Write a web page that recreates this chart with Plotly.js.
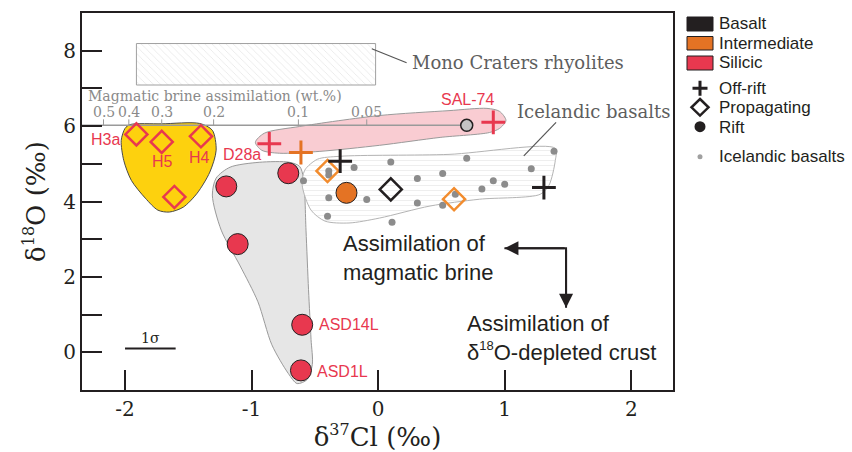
<!DOCTYPE html>
<html>
<head>
<meta charset="utf-8">
<script src="https://cdn.plot.ly/plotly-3.0.1.min.js"></script>
<style>
  html, body { margin: 0; padding: 0; background: #ffffff; }
  #chart { width: 852px; height: 452px; }
</style>
</head>
<body>
<div id="chart"></div>
<script>
// ---- Sample data: δ37Cl (‰) vs δ18O (‰) ----
const basaltOffRiftX = [-0.30, 1.31];
const basaltOffRiftY = [5.07, 4.37];
const basaltPropX = [0.10];
const basaltPropY = [4.32];

const interOffRiftX = [-0.61];
const interOffRiftY = [5.30];
const interPropX = [-0.40, 0.60];
const interPropY = [4.81, 4.06];
const interRiftX = [-0.25];
const interRiftY = [4.23];

const silicicOffRiftX = [-0.86, 0.91];
const silicicOffRiftY = [5.53, 6.10];
const silicicPropX = [-1.91, -1.71, -1.40, -1.61];
const silicicPropY = [5.78, 5.58, 5.73, 4.12];
const silicicRiftX = [-1.20, -0.71, -1.11, -0.60, -0.61];
const silicicRiftY = [4.40, 4.75, 2.87, 0.73, -0.48];

// Icelandic basalt compilation
const icelandX = [-0.39, -0.39, -0.19, 0.10, 0.70, 1.39, 1.21, -0.59, 0.51, 0.31,
                  0.91, 1.00, 0.82, 0.61, 0.51, 0.31, -0.09, -0.39, -0.40, 0.11];
const icelandY = [4.81, 4.70, 4.90, 5.05, 5.15, 5.33, 4.87, 4.55, 4.74, 4.61,
                  4.55, 4.46, 4.33, 4.19, 3.90, 3.96, 4.05, 4.10, 3.61, 3.45];

// Uncontaminated end-member and magmatic brine mixing scale
const endMemberX = [0.70];
const endMemberY = [6.02];
const brineLineX = [-2.34, 0.70];
const brineLineY = [6.02, 6.02];
const brineTickX = [-2.17, -1.97, -1.71, -1.30, -0.63, -0.09];
const brineTickLabels = ['0.5', '0.4', '0.3', '0.2', '0.1', '0.05'];

// Fields (outlines in δ37Cl, δ18O)
const monoX = [-1.91, -0.02, -0.02, -1.91, -1.91];
const monoY = [8.19, 8.19, 7.09, 7.09, 8.19];

const icelandFieldX = [0.56, 1.40, 1.40, 1.35, 1.28, 0.80, 0.41, 0.01, -0.23, -0.42, -0.53, -0.60, -0.58, -0.48, -0.30, 0.56];
const icelandFieldY = [5.25, 5.41, 5.09, 4.43, 4.19, 4.06, 3.88, 3.56, 3.43, 3.48, 3.77, 4.43, 4.83, 5.12, 5.20, 5.25];

const offRiftFieldX = [0.01, 0.56, 0.86, 0.96, 1.01, 0.96, 0.88, 0.49, 0.01, -0.46, -0.78, -0.92, -0.97, -0.90, -0.62, 0.01];
const offRiftFieldY = [6.28, 6.41, 6.47, 6.39, 6.15, 5.94, 5.83, 5.70, 5.49, 5.33, 5.28, 5.36, 5.57, 5.81, 5.99, 6.28];

const propFieldX = [-1.71, -1.41, -1.31, -1.28, -1.33, -1.43, -1.54, -1.65, -1.74, -1.84, -1.95, -2.01, -2.03, -2.00, -1.96, -1.71];
const propFieldY = [6.06, 6.07, 5.89, 5.36, 4.78, 4.22, 3.85, 3.72, 3.77, 4.09, 4.56, 5.09, 5.62, 5.94, 6.04, 6.06];

const riftFieldX = [-0.57, -0.55, -0.53, -0.52, -0.56, -0.64, -0.71, -0.84, -0.95, -1.09, -1.24, -1.31, -1.28, -1.17, -0.94, -0.70, -0.62, -0.59, -0.57];
const riftFieldY = [3.24, 1.66, 0.34, -0.32, -0.72, -0.83, -0.56, 0.20, 1.34, 2.29, 3.24, 4.17, 4.62, 4.91, 5.04, 5.04, 4.93, 4.62, 3.24];

// 1σ analytical uncertainty bar
const sigmaBarX = [-2.00, -1.60];
const sigmaBarY = [0.10, 0.10];

// Process arrows: elbow path (brine to the left, depleted crust downward)
const arrowElbowX = [0.998, 1.485, 1.485];
const arrowElbowY = [2.76, 2.76, 1.18];

// ---- Styles ----
const INK = '#231f20';
const RED = '#e8384f';
const ORANGE = '#e47324';
const ORANGE_LIGHT = '#f28c2e';
const SERIF = 'DejaVu Serif, serif';
const SANS = 'Liberation Sans, Arial, sans-serif';

function field(x, y, fill, lineColor, extra) {
  return Object.assign({
    type: 'scatter', mode: 'lines', x: x, y: y, fill: 'toself',
    fillcolor: fill, line: {color: lineColor, width: 1, shape: 'spline', smoothing: 0.8},
    hoverinfo: 'skip', showlegend: false
  }, extra || {});
}

function markers(x, y, marker) {
  return {type: 'scatter', mode: 'markers', x: x, y: y, marker: marker, showlegend: false, cliponaxis: false};
}

const crossMarker = c => ({symbol: 'cross-thin-open', size: 17, color: c, line: {color: c, width: 3}});
const diamondMarker = c => ({symbol: 'diamond-open', size: 17, color: c, line: {color: c, width: 2.5}});
const circleMarker = c => ({symbol: 'circle', size: 21, color: c, line: {color: INK, width: 1}});

const traces = [
  field(riftFieldX, riftFieldY, '#e6e6e6', '#9a9a9a'),
  field(propFieldX, propFieldY, '#fdd10e', '#4a4a4a'),
  field(offRiftFieldX, offRiftFieldY, '#f9ccd2', '#9a9a9a'),
  field(icelandFieldX, icelandFieldY, '#ffffff', '#b4b4b4',
        {fillpattern: {shape: '-', fgcolor: '#e8e8e8', bgcolor: '#ffffff', size: 5, solidity: 0.15}}),
  field(monoX, monoY, '#ffffff', '#a0a0a0',
        {line: {color: '#a0a0a0', width: 1}, fillpattern: {shape: '\\', fgcolor: '#e0e0e0', bgcolor: '#ffffff', size: 5, solidity: 0.12}}),
  {type: 'scatter', mode: 'lines', x: brineLineX, y: brineLineY, line: {color: '#9a9a9a', width: 1.5}, showlegend: false},
  {type: 'scatter', mode: 'lines', x: sigmaBarX, y: sigmaBarY, line: {color: INK, width: 2}, showlegend: false},
  {type: 'scatter', mode: 'lines', x: arrowElbowX, y: arrowElbowY, line: {color: INK, width: 2}, showlegend: false},
  markers(icelandX, icelandY, {symbol: 'circle', size: 7, color: '#8c8c8c'}),
  markers(endMemberX, endMemberY, {symbol: 'circle', size: 12, color: '#c4c4c4', line: {color: INK, width: 1.5}}),
  markers(silicicRiftX, silicicRiftY, circleMarker(RED)),
  markers(interRiftX, interRiftY, circleMarker(ORANGE)),
  markers(basaltPropX, basaltPropY, diamondMarker(INK)),
  markers(interPropX, interPropY, diamondMarker(ORANGE_LIGHT)),
  markers(silicicPropX, silicicPropY, diamondMarker(RED)),
  markers(basaltOffRiftX, basaltOffRiftY, crossMarker(INK)),
  markers(interOffRiftX, interOffRiftY, crossMarker(ORANGE)),
  markers(silicicOffRiftX, silicicOffRiftY, crossMarker(RED))
];

// ---- Plot-area geometry (pixels) used for the legend block ----
const L = 82, T = 13, W = 591, H = 377;
const fx = px => (px - L) / W;
const fy = py => (T + H - py) / H;

const shapes = [];
const annotations = [];

// brine scale ticks
brineTickX.forEach((bx, i) => {
  shapes.push({type: 'line', xref: 'x', yref: 'y', x0: bx, x1: bx,
               ysizemode: 'pixel', yanchor: brineLineY[0], y0: 0, y1: 6,
               line: {color: '#9a9a9a', width: 1}});
  annotations.push({x: bx, y: brineLineY[0], xref: 'x', yref: 'y', text: brineTickLabels[i],
                    showarrow: false, yshift: 13, font: {family: SERIF, size: 14, color: '#8a8a8a'}});
});
annotations.push({x: -2.305, y: brineLineY[0], xref: 'x', yref: 'y', xanchor: 'left',
                  text: 'Magmatic brine assimilation (wt.%)', showarrow: false, yshift: 29,
                  font: {family: SERIF, size: 14, color: '#8a8a8a'}});

// field labels with leader lines
shapes.push({type: 'line', xref: 'x', yref: 'y', x0: -0.05, y0: 8.05, x1: 0.225, y1: 7.68, line: {color: '#555', width: 1.2}});
shapes.push({type: 'line', xref: 'x', yref: 'y', x0: 1.406, y0: 6.10, x1: 1.151, y1: 5.21, line: {color: '#555', width: 1.2}});
annotations.push({x: 0.255, y: 7.69, xref: 'x', yref: 'y', xanchor: 'left', text: 'Mono Craters rhyolites',
                  showarrow: false, font: {family: SERIF, size: 18, color: '#5e5e5e'}});
annotations.push({x: 1.085, y: 6.40, xref: 'x', yref: 'y', xanchor: 'left', text: 'Icelandic basalts',
                  showarrow: false, font: {family: SERIF, size: 18, color: '#5e5e5e'}});

// sample names
const redFont = {family: SANS, size: 16, color: RED};
[
  {x: -2.155, y: 5.64, t: 'H3a', a: 'center'},
  {x: -1.703, y: 5.05, t: 'H5', a: 'center'},
  {x: -1.409, y: 5.18, t: 'H4', a: 'center'},
  {x: -1.073, y: 5.25, t: 'D28a', a: 'center'},
  {x: 0.709, y: 6.70, t: 'SAL-74', a: 'center'},
  {x: -0.48, y: 0.73, t: 'ASD14L', a: 'left'},
  {x: -0.495, y: -0.50, t: 'ASD1L', a: 'left'}
].forEach(s => annotations.push({x: s.x, y: s.y, xref: 'x', yref: 'y', xanchor: s.a, text: s.t,
                                 showarrow: false, font: redFont}));

// 1σ label
annotations.push({x: -1.80, y: sigmaBarY[0], xref: 'x', yref: 'y', text: '1σ', showarrow: false,
                  yshift: 11, font: {family: SERIF, size: 14, color: INK}});

// process annotations and arrowheads at the ends of the elbow
const bigFont = {family: SANS, size: 22, color: INK};
annotations.push({x: -0.29, y: 2.51, xref: 'x', yref: 'y', xanchor: 'left', align: 'left',
                  text: 'Assimilation of<br>magmatic brine', showarrow: false, font: bigFont});
annotations.push({x: 0.683, y: 0.38, xref: 'x', yref: 'y', xanchor: 'left', align: 'left',
                  text: 'Assimilation of<br>δ<sup><span style="font-size:13px">18</span></sup>O-depleted crust',
                  showarrow: false, font: bigFont});
const arrowStyle = {xref: 'x', yref: 'y', axref: 'x', ayref: 'y', text: '', showarrow: true,
                    arrowhead: 2, arrowsize: 1.4, arrowwidth: 2, arrowcolor: INK, standoff: 0, startstandoff: 0};
annotations.push(Object.assign({x: arrowElbowX[0], y: arrowElbowY[0], ax: arrowElbowX[1], ay: arrowElbowY[1]}, arrowStyle));
annotations.push(Object.assign({x: arrowElbowX[2], y: arrowElbowY[2], ax: arrowElbowX[1], ay: arrowElbowY[1]}, arrowStyle));

// ---- Legend block ----
const legFont = {family: SANS, size: 17, color: INK};
[['Basalt', INK, 17, 31], ['Intermediate', ORANGE, 36.5, 50], ['Silicic', RED, 56, 70]].forEach(r => {
  shapes.push({type: 'rect', xref: 'paper', yref: 'paper', x0: fx(687), x1: fx(713), y0: fy(r[3]), y1: fy(r[2]),
               fillcolor: r[1], line: {color: INK, width: 1}});
  annotations.push({x: fx(717), y: fy((r[2] + r[3]) / 2), xref: 'paper', yref: 'paper', xanchor: 'left',
                    yanchor: 'middle', text: r[0], showarrow: false, font: legFont});
});
shapes.push({type: 'path', xref: 'paper', yref: 'paper',
             path: `M${fx(692.5)},${fy(88.3)}L${fx(707.5)},${fy(88.3)}M${fx(700)},${fy(80.8)}L${fx(700)},${fy(95.8)}`,
             line: {color: INK, width: 3}});
shapes.push({type: 'path', xref: 'paper', yref: 'paper',
             path: `M${fx(700)},${fy(99)}L${fx(708.5)},${fy(107.3)}L${fx(700)},${fy(115.6)}L${fx(691.5)},${fy(107.3)}Z`,
             line: {color: INK, width: 2.5}});
shapes.push({type: 'circle', xref: 'paper', yref: 'paper', x0: fx(694.5), x1: fx(705.5), y0: fy(132.2), y1: fy(121.2),
             fillcolor: INK, line: {color: INK, width: 0}});
shapes.push({type: 'circle', xref: 'paper', yref: 'paper', x0: fx(697.5), x1: fx(702.5), y0: fy(159.2), y1: fy(154.2),
             fillcolor: '#a0a0a0', line: {color: '#a0a0a0', width: 0}});
[['Off-rift', 88.3], ['Propagating', 107.3], ['Rift', 127], ['Icelandic basalts', 156.7]].forEach(r => {
  annotations.push({x: fx(717), y: fy(r[1]), xref: 'paper', yref: 'paper', xanchor: 'left', yanchor: 'middle',
                    text: r[0], showarrow: false, font: legFont});
});

const layout = {
  width: 852, height: 452,
  margin: {l: L, r: 852 - L - W, t: T, b: 452 - T - H},
  paper_bgcolor: '#ffffff', plot_bgcolor: '#ffffff',
  showlegend: false,
  xaxis: {
    range: [-2.34, 2.33], tickvals: [-2, -1, 0, 1, 2], ticktext: ['-2', '-1', '0', '1', '2'],
    ticks: 'inside', ticklen: 20, tickwidth: 2, tickcolor: INK,
    showline: true, linewidth: 2, linecolor: INK, mirror: true,
    showgrid: false, zeroline: false,
    tickfont: {family: SERIF, size: 20, color: INK},
    title: {text: 'δ<sup><span style="font-size:16px">37</span></sup>Cl (‰)', font: {family: SERIF, size: 26, color: INK}, standoff: 3}
  },
  yaxis: {
    range: [-1, 9], tickmode: 'linear', tick0: 0, dtick: 2,
    ticks: 'inside', ticklen: 20, tickwidth: 2, tickcolor: INK,
    minor: {tickmode: 'linear', tick0: 1, dtick: 2, ticks: 'inside', ticklen: 20, tickwidth: 2, tickcolor: INK, showgrid: false},
    showline: true, linewidth: 2, linecolor: INK, mirror: true,
    showgrid: false, zeroline: false,
    tickfont: {family: SERIF, size: 20, color: INK},
    title: {text: 'δ<sup><span style="font-size:16px">18</span></sup>O (‰)', font: {family: SERIF, size: 26, color: INK}, standoff: 10}
  },
  shapes: shapes,
  annotations: annotations
};

Plotly.newPlot('chart', traces, layout, {displayModeBar: false, staticPlot: true});
</script>
</body>
</html>
